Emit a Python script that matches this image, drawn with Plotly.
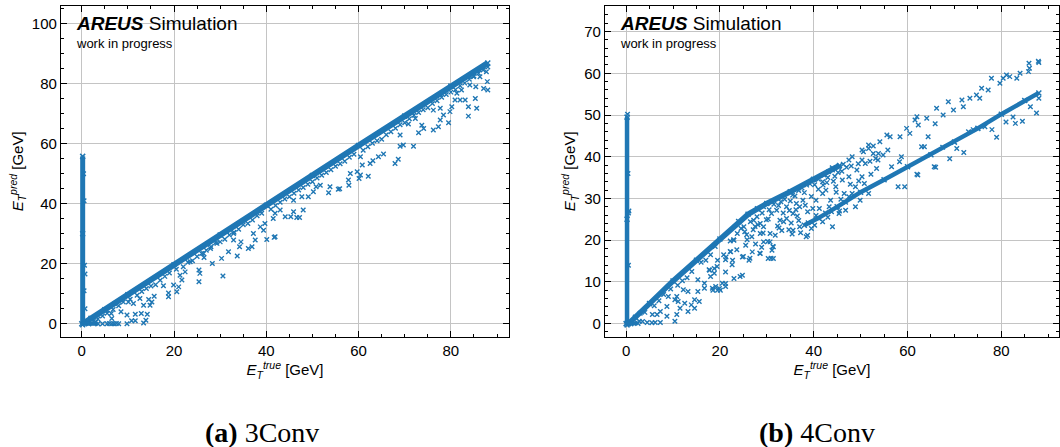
import plotly.graph_objects as go

# ---------------- data ----------------
panel_titles = ["<b>(a)</b> 3Conv", "<b>(b)</b> 4Conv"]
x_ticks = [0, 20, 40, 60, 80]
a_y_ticks = [0, 20, 40, 60, 80, 100]
b_y_ticks = [0, 10, 20, 30, 40, 50, 60, 70]

# Panel (a) 3Conv: dense ridge of predictions (E_true, E_pred)
a_ridge_x = [0.5, 2, 5, 10, 20, 30, 40, 50, 60, 70, 80, 88]
a_ridge_y = [0.3, 1.8, 4.7, 9.7, 19.7, 29.6, 39.5, 49.4, 59.4, 69.2, 79.2, 86.9]
# dense spike at E_true ~ 0
a_spike_x = [0.2, 0.2, 0.2]
a_spike_y = [-0.3, 30, 55.8]
a_zero_x = [0.0, 1.5, 3.5]
a_zero_y = [0.0, 0.0, 0.0]
# scattered points
a_scatter = [
    (0.7, 16.6), (0.6, 19.5), (0.5, 11), (0.7, 5), (0.5, 41), (0.4, 50),
    (4.5, 0), (5.5, 0), (6, 0.1), (6.5, 0), (7, 0), (7.5, 0.1), (8, 0), (3, 0.5),
    (9.8, 0), (10.8, 1), (11.6, 1), (13.4, 0.3), (13.9, 1.2), (14.2, 3.2), (12.9, 3.4),
    (11.6, 3.2), (9.8, 2.9), (8.5, 4), (6.5, 1.8), (5.4, 4.6), (6.4, 3.4),
    (11.2, 6.8), (13.4, 6.2), (14.8, 6.2), (15.2, 7.3), (14.5, 8.1), (12.6, 8.4),
    (15.7, 9.2), (10.1, 7.3), (7.2, 6.8),
    (18.8, 9), (18.8, 10.3), (20.6, 10.7), (21, 12.3), (19.9, 12.9), (17.7, 12.7),
    (21.7, 14.6), (21.3, 16.2), (22.4, 17.3), (23.5, 20.7), (25.4, 14), (25.6, 16.8),
    (25.4, 17.9),
    (30.6, 15.9), (28.3, 20.1), (26.5, 22.1), (26.4, 23.4), (27.9, 25.1), (29.3, 26.8),
    (30.3, 21.8), (31.8, 24), (32.9, 27.9), (33.7, 22.6), (34.2, 25.7), (34.5, 27.3),
    (32.9, 30.1), (31.4, 30.7), (36.1, 25.1), (36.9, 25.7), (37.6, 27.9), (37.2, 30.1),
    (38.7, 32.3), (39.4, 31.2), (39.7, 33.4), (40.1, 28.1), (41.7, 28.8), (41.9, 29),
    (41.5, 35.1), (41.9, 36.8), (43, 37.9), (44.1, 35.7), (45.3, 35.7), (46.6, 35.4),
    (47.2, 35.4), (45.9, 37.3), (48, 37.9), (45.9, 41.2), (47.7, 42.3), (49.1, 42.3),
    (50.2, 44), (50.8, 45.7), (51.7, 46.2), (53.5, 43.7), (53.8, 45.7), (55.6, 44.8),
    (55.9, 45), (57.9, 46.2), (58.2, 50.1), (57.8, 47.9), (59.7, 50.7), (60.1, 48.4),
    (60.4, 49.6), (60.8, 52.9), (60.4, 55.7), (62.1, 49.2), (62.5, 53.4), (63.1, 54.3),
    (64.3, 55.7), (65.4, 56.6),
    (67.9, 53.4), (68.6, 54.8), (69, 59.2), (69.7, 59.6), (71.9, 59.2), (73, 63.7),
    (73.7, 66.2), (74.1, 65.1), (69, 62.9), (70.8, 66.6), (72.3, 68.4), (76.2, 64.6),
    (77.3, 65.7), (77.7, 67.9), (78.4, 69.6), (79.5, 67), (79.8, 70.7), (80.2, 72.3),
    (80.9, 74.6), (77.7, 71.8), (76.2, 71.2),
    (82, 74.6), (83.1, 74.6), (83.8, 72.3), (83.8, 69.2), (85.3, 75.1), (85.6, 71.8),
    (84.1, 79.6), (85.4, 79), (87.1, 78.4), (88, 77.9), (87.9, 80.7), (87.7, 84),
    (86.3, 82.3), (84.9, 82.3), (82.3, 77.9), (81.3, 76.8),
    (5.5, 3.5), (8, 6), (12, 9.5), (16, 13), (17, 14.5), (22, 19), (24, 21), (27, 24.5),
    (29, 27), (33, 30.5), (35, 33), (38, 36), (43, 40.5), (46, 43.5), (49, 46.5),
    (52, 49.5), (55, 52.5), (58, 55.5), (62, 59), (65, 61.5), (67, 64), (70, 67),
    (72, 69.5), (75, 72), (78, 75.5), (81, 78), (84, 81.5), (86, 83.5),
    (3.5, 1.6), (9, 7.3), (14, 11.8), (19, 16.9), (23, 20.5), (26, 23.4), (31, 28.2),
    (36, 33.4), (41, 38.2), (44, 41.6), (48, 45.4), (53, 50.4), (57, 54.2), (61, 57.8),
    (64, 61), (68, 65.2), (73, 70.4), (76, 73.4), (79, 76.4), (83, 80.2), (87, 84.6),
    (2.5, 0.8), (4.5, 2.6), (6.8, 4.8), (10.5, 8.2), (13, 10.8), (15, 12.6), (18, 15.8),
    (20.5, 18.2), (25, 22.4), (28, 25.7), (30, 27.3), (32, 29.6), (34, 31.5), (37, 34.6),
    (39, 36.8), (42, 39.4), (45, 42.3), (47, 44.6), (50, 47.3), (51, 48.6), (54, 51.3),
    (56, 53.3), (59, 56.5), (63, 60.2), (66, 63), (69, 66.3), (71, 68.3), (74, 71.3),
    (77, 74.3), (80, 77.2), (82, 79.3), (85, 82.6), (88, 85.6),
]

# Panel (b) 4Conv: two dense branches
b_ridge_x = [0.5, 2, 5, 10, 15, 20, 24, 26, 28, 30, 35, 40, 44, 45.5]
b_ridge_y = [0.0, 1.5, 4.8, 10.2, 15.2, 20.3, 24.5, 26.2, 27.5, 28.8, 31.6, 34.6, 37.3, 37.9]
b_lower_x = [38, 41, 45, 50, 55, 60, 65, 70, 75, 80, 85, 88]
b_lower_y = [23.6, 25.3, 28.0, 31.5, 34.5, 37.6, 40.5, 43.5, 46.8, 50.2, 53.5, 55.3]
b_spike_x = [0.2, 0.2, 0.2]
b_spike_y = [-0.3, 25, 49.5]
b_zero_x = [0.0, 1.0, 2.5]
b_zero_y = [0.0, 0.0, 0.1]
b_scatter = [
    (0.3, 50.2), (0.5, 26.5), (0.6, 27), (0.4, 36), (0.5, 14),
    (5.6, 2.2), (6.6, 2.2), (7.3, 2.9), (6.2, 0.3), (7.3, 0.3), (4.5, 0.3), (2.8, 0.6),
    (3.5, 0.5), (5.5, 0.2), (8.7, 4.1), (10.4, 0.6), (10.8, 2.2), (11.5, 3.7), (11.1, 5.3),
    (9, 6.5), (10.8, 6.5), (12.5, 4.9), (13.2, 2.9), (13.9, 4.5), (14.6, 5.7),
    (15.3, 7.7), (13.2, 7.7), (15.6, 5.3), (14.6, 3.7), (12.2, 8.1), (16.7, 8.5),
    (18.4, 8.5), (19.1, 8.9), (20.1, 8), (21.2, 8.9), (20.5, 9.7), (22.6, 14.1),
    (24.3, 11.3), (18.8, 12.1), (17.7, 12.9), (18, 11.3), (19.4, 13.7), (20.8, 16.5),
    (21.2, 15.3), (22.2, 17.3), (23.6, 17.7), (22.2, 19.8), (22.9, 20.1), (25, 16.1),
    (26.4, 15.7), (25.3, 22), (27.1, 22.5), (25.7, 21.3), (28.1, 23.7), (29.9, 24.9),
    (29.2, 21.7), (30.2, 19.7), (31.3, 18.5), (30.9, 15.7), (28.5, 16.9), (32.6, 22.9),
    (34.7, 22.5), (15.3, 10.5), (16.7, 9.7), (10.4, 5.7), (8.7, 1.8),
    (27.9, 25.6), (29.3, 23.2), (30.7, 21.6), (31.4, 18.4), (30.3, 15.6), (31.4, 15.6),
    (28.6, 16.8), (26.2, 15.2), (26.9, 17.2), (25.5, 18.8), (24.8, 16), (23, 20),
    (22.7, 15.2), (24.8, 11.6), (23, 10.8), (21.2, 12.4), (19.9, 8.4), (21.2, 9.6),
    (18.5, 8), (19.5, 8), (17.8, 12.8), (18.8, 13.2), (19.5, 15.2), (21.3, 16),
    (22.3, 17.2), (26.8, 20.8), (28.6, 21.6), (29.3, 19.6), (30.7, 19.6), (31.1, 17.6),
    (34.2, 25.2), (35.6, 22.4), (37, 23.2), (38.7, 21.2), (38.4, 20.8), (34.2, 28),
    (32.1, 27.2), (32.8, 24.8), (35.6, 26.4), (37, 28), (38.7, 26.8), (40.5, 29.6),
    (41.9, 31.2), (41.2, 27.6), (43.3, 28), (43.6, 29.6), (42.6, 32), (44.7, 32.8),
    (46.1, 34.4), (47.5, 35.2), (46.5, 31.2), (48.9, 32.8), (49.2, 36.8), (50.3, 35.2),
    (51, 38.4), (53.4, 37.2), (44, 23.2), (41.9, 24.4), (39.8, 27.6), (37.7, 29.6),
    (36.3, 28.8), (29.3, 28), (31, 26.4), (27.2, 24.8), (25.1, 23.2), (23.7, 21.6),
    (28.6, 24), (48.9, 28), (49.9, 29.6), (51.7, 31.2), (46.8, 27.2), (45.4, 26.4),
    (56.6, 37.6), (58, 32.8), (59.4, 32.8), (58.7, 40), (58.3, 38.8), (62.2, 35.6),
    (63.6, 42.4), (65.7, 37.6), (53.7, 39.2), (55.8, 41.6), (52.7, 40.8), (50.3, 39.2),
    (41.9, 34), (39.8, 34.4), (44, 36.8), (45.4, 37.6), (47.5, 39.2), (48.2, 40),
    (50.3, 41.6), (51.7, 42.8), (33, 29.2), (36, 30.6), (38, 31.4), (42, 33.2),
    (33.5, 26.5), (36.5, 25.8), (39.5, 30.5), (43, 35), (46, 36.5), (48, 37.8),
    (50.6, 41.2), (51.7, 42), (52.7, 42.6), (54.1, 43.6), (55.6, 45.2), (56.3, 44.8),
    (54.8, 40.4), (53.8, 40.8), (58.4, 44.8), (59.8, 46.8), (60.5, 45.6), (61.6, 48.8),
    (62.3, 47.6), (62, 49.6), (64.1, 49.2), (65.9, 47.9), (64.4, 44.8), (63, 42.4),
    (66.2, 51.6), (67.6, 50), (68.7, 53.2), (69.8, 51.2), (71.9, 52), (71.6, 53.6),
    (73.3, 54), (74.7, 54.8), (75.8, 56.4), (77.2, 56), (75.4, 54), (77.9, 58.8),
    (79.7, 57.6), (80.4, 58.8), (81.1, 59.6), (81.8, 59.2), (83.3, 58.8), (84, 60),
    (85.8, 60.4), (85.9, 62.4), (88, 62.6), (87.9, 62.9), (86, 61.2),
    (66, 37.5), (67.5, 42.3), (70.5, 42), (72, 41), (74, 46.5), (76.5, 47.2),
    (78, 46.5), (79, 44.7), (81, 48.3), (82.5, 49.5), (83, 48), (84.5, 48.5),
    (86.2, 52), (87.5, 50.5), (88, 54), (69, 39.5), (73, 46), (62, 35.8),
    (3, 2.5), (6, 4.3), (8, 7), (12, 10.3), (14, 12.5), (16, 14.7), (18, 16.5),
    (4, 2.7), (7, 5.5), (9.5, 8.3), (11, 9.2), (13, 11), (17, 15.2), (19, 18.5),
    # dense fill between the two branches
    (29, 26.5), (30.5, 27.3), (31.5, 28.6), (32.5, 28.3), (33.8, 29.8), (35, 29.4),
    (35.5, 30.8), (36.8, 31.9), (37.5, 32.5), (38.5, 33.2), (39.2, 33.5), (40.2, 33.3),
    (41, 34.6), (42.2, 35.6), (43.2, 36.4), (44.5, 35.3), (45.2, 36.2), (46.3, 38.2),
    (47, 37.5), (44.2, 34.1), (42.8, 33.8), (41, 32.2), (38.2, 28.4), (36.2, 27.3),
    (34.8, 27.1), (33.6, 24.4), (32.3, 23.4), (30.3, 25.1), (31.8, 21.2), (33.2, 22.3),
    (35.2, 24.1), (36.8, 24.7), (38.8, 24.2), (40.5, 25.9), (42.5, 26.5), (43.8, 26.8),
    (45.8, 29.8), (47.5, 30.4), (48.2, 31.2), (47.8, 33.4), (49.6, 34.2), (50.8, 33.6),
    (52.2, 35.8), (52, 38.9), (53.2, 39.6), (49.5, 38.3), (46.8, 29.1), (44.8, 31.5),
    (39.5, 22.8), (37.2, 21.8), (35.4, 21.5), (40.2, 23.6), (43, 25.5), (45.5, 27),
    (27.5, 23.3), (26.5, 24.4), (24.5, 22.8), (25.8, 20.1), (27.6, 19.1), (28.9, 18.3),
]

# ---------------- figure ----------------
blue = "#1f77b4"
fig = go.Figure()


def add_panel(fig, xa, ya, ridges, scatter):
    for rx, ry, w in ridges:
        fig.add_trace(go.Scatter(x=rx, y=ry, xaxis=xa, yaxis=ya, mode="lines",
                                 line=dict(color=blue, width=w), hoverinfo="skip",
                                 showlegend=False))
        fig.add_trace(go.Scatter(x=rx, y=ry, xaxis=xa, yaxis=ya, mode="markers",
                                 marker=dict(symbol="x-thin", size=5, color=blue,
                                             line=dict(color=blue, width=1.5)),
                                 showlegend=False))
    sx = [p[0] for p in scatter]
    sy = [p[1] for p in scatter]
    fig.add_trace(go.Scatter(x=sx, y=sy, xaxis=xa, yaxis=ya, mode="markers",
                             marker=dict(symbol="x-thin", size=4.5, color=blue,
                                         line=dict(color=blue, width=1.4)),
                             showlegend=False))


add_panel(fig, "x", "y",
          [(a_ridge_x, a_ridge_y, 6), (a_spike_x, a_spike_y, 5), (a_zero_x, a_zero_y, 4)],
          a_scatter)
add_panel(fig, "x2", "y2",
          [(b_ridge_x, b_ridge_y, 5.5), (b_lower_x, b_lower_y, 4.5),
           (b_spike_x, b_spike_y, 4.5), (b_zero_x, b_zero_y, 4)],
          b_scatter)

W, H = 1060, 447
top = 1 - 5.7 / H
bottom = 1 - 337 / H

common_axis = dict(
    showline=True, linecolor="black", linewidth=1.2, mirror="allticks",
    ticks="inside", ticklen=6, tickwidth=1, tickcolor="black",
    showgrid=True, gridcolor="#c4c4c4", gridwidth=1.2, zeroline=False,
    tickfont=dict(family="Liberation Sans", size=15, color="black"),
    title_font=dict(family="Liberation Sans", size=15, color="black"),
)
minor = dict(ticks="inside", ticklen=3, tickcolor="black", showgrid=False)

xt = "<i>E</i><sub><i>T</i></sub><sup><i>true</i></sup> [GeV]"
yt = "<i>E</i><sub><i>T</i></sub><sup><i>pred</i></sup> [GeV]"

fig.update_layout(
    width=W, height=H, margin=dict(l=0, r=0, t=0, b=0),
    paper_bgcolor="white", plot_bgcolor="white",
    xaxis=dict(domain=[61 / W, 509 / W], range=[-4.5, 92.6], tickvals=x_ticks,
               minor=dict(dtick=5, **minor), anchor="y",
               title=dict(text=xt, standoff=0), **common_axis),
    yaxis=dict(domain=[bottom, top], range=[-4.4, 106], tickvals=a_y_ticks,
               minor=dict(dtick=5, **minor), anchor="x",
               title=dict(text=yt, standoff=4), **common_axis),
    xaxis2=dict(domain=[605 / W, 1059 / W], range=[-4.5, 92.3], tickvals=x_ticks,
                minor=dict(dtick=5, **minor), anchor="y2",
                title=dict(text=xt, standoff=0), **common_axis),
    yaxis2=dict(domain=[bottom, top], range=[-3.2, 76.2], tickvals=b_y_ticks,
                minor=dict(dtick=2, **minor), anchor="x2",
                title=dict(text=yt, standoff=4), **common_axis),
)

annotations = []
for x0 in (74, 618):
    annotations.append(dict(x=x0 / W, y=1 - 23 / H, xref="paper", yref="paper",
                            xanchor="left", yanchor="middle", showarrow=False,
                            text="<b><i>AREUS</i></b> Simulation",
                            font=dict(family="Liberation Sans", size=19, color="black")))
    annotations.append(dict(x=x0 / W, y=1 - 43 / H, xref="paper", yref="paper",
                            xanchor="left", yanchor="middle", showarrow=False,
                            text="work in progress",
                            font=dict(family="Liberation Sans", size=13, color="black")))
for cx, t in zip((262, 817), panel_titles):
    annotations.append(dict(x=cx / W, y=1 - 432 / H, xref="paper", yref="paper",
                            xanchor="center", yanchor="middle", showarrow=False,
                            text=t,
                            font=dict(family="Liberation Serif", size=28, color="black")))
fig.update_layout(annotations=annotations)

fig.write_html("out.html")
